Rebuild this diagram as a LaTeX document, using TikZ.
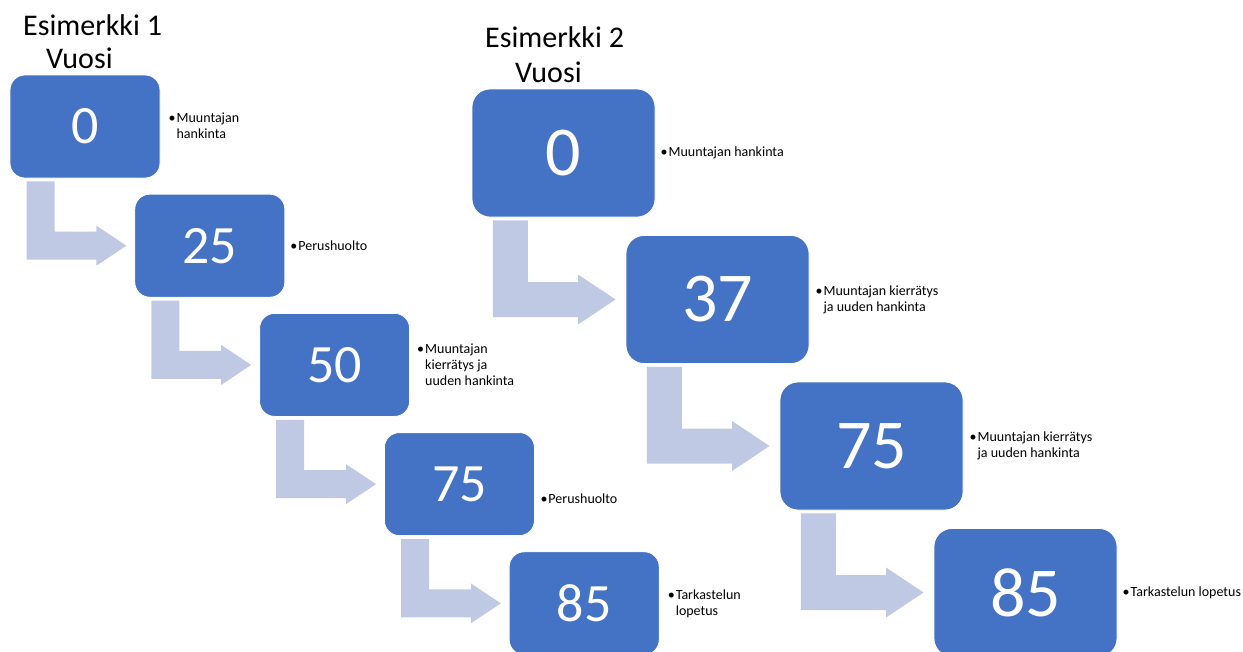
\documentclass[tikz,border=0pt]{standalone}
\usepackage{fontspec}
\setmainfont{Carlito}
\usetikzlibrary{calc}
\definecolor{boxblue}{HTML}{4472C4}
\definecolor{arrowfill}{RGB}{192,201,227}
\newcommand\bul{\llap{•\hspace{1pt}}}
% #1 scale, #2 from node, #3 to node
\newcommand\flowarrow[3]{%
  \fill[arrowfill]
    ($(#2.south west)+(17*#1,3)$) --
    ($(#2.south west)+(45*#1,3)$) --
    ($(#2.south west |- #3.west)+(45*#1,-14*#1)$) --
    ($(#3.west)+(-38*#1,-14*#1)$) --
    ($(#3.west)+(-38*#1,-20*#1)$) --
    ($(#3.west)+(-8*#1,0)$) --
    ($(#3.west)+(-38*#1,20*#1)$) --
    ($(#3.west)+(-38*#1,14*#1)$) --
    ($(#2.south west |- #3.west)+(17*#1,14*#1)$) -- cycle;}
\begin{document}
\begin{tikzpicture}[x=1pt,y=-1pt,
  boxa/.style={rectangle, rounded corners=15pt, fill=boxblue, draw=white, line width=0.8pt,
    minimum width=150pt, minimum height=103pt, inner sep=0pt, text=white,
    font=\fontsize{54}{60}\selectfont},
  boxb/.style={boxa, rounded corners=18pt, minimum width=183pt, minimum height=128pt,
    font=\fontsize{70}{78}\selectfont},
  lbl/.style={anchor=west, align=left, inner sep=0pt, font=\fontsize{14}{16}\selectfont},
  ttl/.style={anchor=base west, inner sep=0pt, font=\fontsize{30}{35}\selectfont}]
\useasboundingbox (0,0) rectangle (1243,651);
\clip (0,0) rectangle (1243,651);

% titles
\node[ttl] (t1a) at (23,35) {Esimerkki 1};
\node[ttl] (t1b) at (46,68) {Vuosi};
\node[ttl] (t2a) at (485,47) {Esimerkki 2};
\node[ttl] (t2b) at (515,82) {Vuosi};

% example 1 boxes
\node[boxa] (a0) at (85,126.5) {0};
\node[boxa] (a1) at (209.8,245.7) {25};
\node[boxa] (a2) at (334.6,364.9) {50};
\node[boxa] (a3) at (459.4,484.1) {75};
\node[boxa] (a4) at (584.2,603.3) {85};

% example 2 boxes
\node[boxb] (b0) at (563.5,153) {0};
\node[boxb] (b1) at (717.5,299.5) {37};
\node[boxb] (b2) at (871.5,446) {75};
\node[boxb] (b3) at (1025.5,592.5) {85};

% arrows
\flowarrow{1}{a0}{a1}
\flowarrow{1}{a1}{a2}
\flowarrow{1}{a2}{a3}
\flowarrow{1}{a3}{a4}
\flowarrow{1.25}{b0}{b1}
\flowarrow{1.25}{b1}{b2}
\flowarrow{1.25}{b2}{b3}

% labels example 1
\node[lbl] (la0) at ($(a0.east)+(16,-1)$) {\bul Muuntajan\\hankinta};
\node[lbl] (la1) at ($(a1.east)+(13,0)$) {\bul Perushuolto};
\node[lbl] (la2) at ($(a2.east)+(15,0)$) {\bul Muuntajan\\kierrätys ja\\uuden hankinta};
\node[lbl] (la3) at ($(a3.east)+(13.5,15)$) {\bul Perushuolto};
\node[lbl] (la4) at ($(a4.east)+(16,0)$) {\bul Tarkastelun\\lopetus};

% labels example 2
\node[lbl] (lb0) at ($(b0.east)+(13,0)$) {\bul Muuntajan hankinta};
\node[lbl] (lb1) at ($(b1.east)+(14,0)$) {\bul Muuntajan kierrätys\\ja uuden hankinta};
\node[lbl] (lb2) at ($(b2.east)+(14,0)$) {\bul Muuntajan kierrätys\\ja uuden hankinta};
\node[lbl] (lb3) at ($(b3.east)+(13,0)$) {\bul Tarkastelun lopetus};
\end{tikzpicture}
\end{document}
